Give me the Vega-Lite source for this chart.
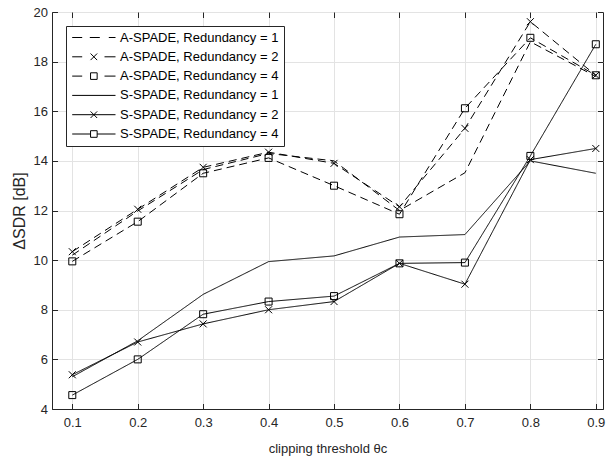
{
  "$schema": "https://vega.github.io/schema/vega-lite/v6.json",
  "width": 551,
  "height": 397,
  "autosize": "none",
  "padding": {"left": 52, "top": 12, "right": 6, "bottom": 52},
  "background": "white",
  "config": {
    "font": "Liberation Sans",
    "view": {"stroke": "#262626", "strokeWidth": 1},
    "axis": {
      "labelFont": "Liberation Sans",
      "labelFontSize": 13,
      "labelColor": "#262626",
      "titleFont": "Liberation Sans",
      "titleFontSize": 13,
      "titleFontWeight": "normal",
      "titleColor": "#262626",
      "domainColor": "#262626",
      "tickColor": "#262626",
      "gridColor": "#e3e3e3",
      "gridWidth": 1,
      "tickSize": -5.5,
      "labelPadding": 10
    }
  },
  "data": {
    "values": [
      {"series": "A-SPADE, Redundancy = 1", "theta": 0.1, "dsdr": 10.2},
      {"series": "A-SPADE, Redundancy = 1", "theta": 0.2, "dsdr": 11.98},
      {"series": "A-SPADE, Redundancy = 1", "theta": 0.3, "dsdr": 13.65},
      {"series": "A-SPADE, Redundancy = 1", "theta": 0.4, "dsdr": 14.3},
      {"series": "A-SPADE, Redundancy = 1", "theta": 0.5, "dsdr": 14.0},
      {"series": "A-SPADE, Redundancy = 1", "theta": 0.6, "dsdr": 12.0},
      {"series": "A-SPADE, Redundancy = 1", "theta": 0.7, "dsdr": 13.52},
      {"series": "A-SPADE, Redundancy = 1", "theta": 0.8, "dsdr": 18.8},
      {"series": "A-SPADE, Redundancy = 1", "theta": 0.9, "dsdr": 17.4},
      {"series": "A-SPADE, Redundancy = 2", "theta": 0.1, "dsdr": 10.34},
      {"series": "A-SPADE, Redundancy = 2", "theta": 0.2, "dsdr": 12.05},
      {"series": "A-SPADE, Redundancy = 2", "theta": 0.3, "dsdr": 13.74},
      {"series": "A-SPADE, Redundancy = 2", "theta": 0.4, "dsdr": 14.35},
      {"series": "A-SPADE, Redundancy = 2", "theta": 0.5, "dsdr": 13.9},
      {"series": "A-SPADE, Redundancy = 2", "theta": 0.6, "dsdr": 12.15},
      {"series": "A-SPADE, Redundancy = 2", "theta": 0.7, "dsdr": 15.31},
      {"series": "A-SPADE, Redundancy = 2", "theta": 0.8, "dsdr": 19.61},
      {"series": "A-SPADE, Redundancy = 2", "theta": 0.9, "dsdr": 17.45},
      {"series": "A-SPADE, Redundancy = 4", "theta": 0.1, "dsdr": 9.95},
      {"series": "A-SPADE, Redundancy = 4", "theta": 0.2, "dsdr": 11.55},
      {"series": "A-SPADE, Redundancy = 4", "theta": 0.3, "dsdr": 13.5},
      {"series": "A-SPADE, Redundancy = 4", "theta": 0.4, "dsdr": 14.12},
      {"series": "A-SPADE, Redundancy = 4", "theta": 0.5, "dsdr": 13.0},
      {"series": "A-SPADE, Redundancy = 4", "theta": 0.6, "dsdr": 11.85},
      {"series": "A-SPADE, Redundancy = 4", "theta": 0.7, "dsdr": 16.12},
      {"series": "A-SPADE, Redundancy = 4", "theta": 0.8, "dsdr": 18.96},
      {"series": "A-SPADE, Redundancy = 4", "theta": 0.9, "dsdr": 17.45},
      {"series": "S-SPADE, Redundancy = 1", "theta": 0.1, "dsdr": 5.3},
      {"series": "S-SPADE, Redundancy = 1", "theta": 0.2, "dsdr": 6.75},
      {"series": "S-SPADE, Redundancy = 1", "theta": 0.3, "dsdr": 8.62},
      {"series": "S-SPADE, Redundancy = 1", "theta": 0.4, "dsdr": 9.94},
      {"series": "S-SPADE, Redundancy = 1", "theta": 0.5, "dsdr": 10.17},
      {"series": "S-SPADE, Redundancy = 1", "theta": 0.6, "dsdr": 10.93},
      {"series": "S-SPADE, Redundancy = 1", "theta": 0.7, "dsdr": 11.03},
      {"series": "S-SPADE, Redundancy = 1", "theta": 0.8, "dsdr": 14.0},
      {"series": "S-SPADE, Redundancy = 1", "theta": 0.9, "dsdr": 13.5},
      {"series": "S-SPADE, Redundancy = 2", "theta": 0.1, "dsdr": 5.38},
      {"series": "S-SPADE, Redundancy = 2", "theta": 0.2, "dsdr": 6.7},
      {"series": "S-SPADE, Redundancy = 2", "theta": 0.3, "dsdr": 7.43},
      {"series": "S-SPADE, Redundancy = 2", "theta": 0.4, "dsdr": 8.0},
      {"series": "S-SPADE, Redundancy = 2", "theta": 0.5, "dsdr": 8.33},
      {"series": "S-SPADE, Redundancy = 2", "theta": 0.6, "dsdr": 9.87},
      {"series": "S-SPADE, Redundancy = 2", "theta": 0.7, "dsdr": 9.03},
      {"series": "S-SPADE, Redundancy = 2", "theta": 0.8, "dsdr": 14.05},
      {"series": "S-SPADE, Redundancy = 2", "theta": 0.9, "dsdr": 14.5},
      {"series": "S-SPADE, Redundancy = 4", "theta": 0.1, "dsdr": 4.56},
      {"series": "S-SPADE, Redundancy = 4", "theta": 0.2, "dsdr": 6.0},
      {"series": "S-SPADE, Redundancy = 4", "theta": 0.3, "dsdr": 7.82},
      {"series": "S-SPADE, Redundancy = 4", "theta": 0.4, "dsdr": 8.33},
      {"series": "S-SPADE, Redundancy = 4", "theta": 0.5, "dsdr": 8.55},
      {"series": "S-SPADE, Redundancy = 4", "theta": 0.6, "dsdr": 9.87},
      {"series": "S-SPADE, Redundancy = 4", "theta": 0.7, "dsdr": 9.9},
      {"series": "S-SPADE, Redundancy = 4", "theta": 0.8, "dsdr": 14.2},
      {"series": "S-SPADE, Redundancy = 4", "theta": 0.9, "dsdr": 18.7}
    ]
  },
  "layer": [
    {
      "mark": {"type": "line", "color": "black", "strokeWidth": 1},
      "encoding": {
        "x": {
          "field": "theta", "type": "quantitative",
          "scale": {"domain": [0.069, 0.911], "nice": false, "zero": false},
          "axis": {"title": "clipping threshold  θc", "values": [0.1, 0.2, 0.3, 0.4, 0.5, 0.6, 0.7, 0.8, 0.9], "format": ".1f", "labelPadding": 13, "titlePadding": 13}
        },
        "y": {
          "field": "dsdr", "type": "quantitative",
          "scale": {"domain": [4, 20], "nice": false, "zero": false},
          "axis": {"title": "ΔSDR [dB]", "titleFontSize": 16, "values": [4, 6, 8, 10, 12, 14, 16, 18, 20], "labelPadding": 10, "titlePadding": 6}
        },
        "strokeDash": {
          "field": "series", "type": "nominal",
          "scale": {
            "domain": ["A-SPADE, Redundancy = 1", "A-SPADE, Redundancy = 2", "A-SPADE, Redundancy = 4", "S-SPADE, Redundancy = 1", "S-SPADE, Redundancy = 2", "S-SPADE, Redundancy = 4"],
            "range": [[8, 5], [8, 5], [8, 5], [1, 0], [1, 0], [1, 0]]
          },
          "legend": null
        }
      }
    },
    {
      "transform": [{"filter": {"field": "series", "oneOf": ["A-SPADE, Redundancy = 2", "A-SPADE, Redundancy = 4", "S-SPADE, Redundancy = 2", "S-SPADE, Redundancy = 4"]}}],
      "mark": {"type": "point", "filled": false, "color": "black", "strokeWidth": 1, "size": 49, "opacity": 1},
      "encoding": {
        "x": {"field": "theta", "type": "quantitative", "axis": null},
        "y": {"field": "dsdr", "type": "quantitative", "axis": null},
        "shape": {
          "field": "series", "type": "nominal",
          "scale": {
            "domain": ["A-SPADE, Redundancy = 2", "A-SPADE, Redundancy = 4", "S-SPADE, Redundancy = 2", "S-SPADE, Redundancy = 4"],
            "range": ["M-1,-1L1,1M-1,1L1,-1", "square", "M-1,-1L1,1M-1,1L1,-1", "square"]
          },
          "legend": null
        }
      }
    },
    {
      "mark": {"type": "point", "filled": false, "color": "black", "strokeWidth": 1, "size": 100, "opacity": 0},
      "encoding": {
        "x": {
          "field": "theta", "type": "quantitative",
          "axis": {"orient": "top", "title": null, "labels": false, "grid": false, "domain": false, "values": [0.1, 0.2, 0.3, 0.4, 0.5, 0.6, 0.7, 0.8, 0.9]}
        },
        "y": {
          "field": "dsdr", "type": "quantitative",
          "axis": {"orient": "right", "title": null, "labels": false, "grid": false, "domain": false, "values": [4, 6, 8, 10, 12, 14, 16, 18, 20]}
        },
        "shape": {
          "field": "series", "type": "nominal",
          "scale": {
            "domain": ["A-SPADE, Redundancy = 1", "A-SPADE, Redundancy = 2", "A-SPADE, Redundancy = 4", "S-SPADE, Redundancy = 1", "S-SPADE, Redundancy = 2", "S-SPADE, Redundancy = 4"],
            "range": [
              "M-1.06,0H0.94M2.46,0H4.46M6.26,0H7.6",
              "M-1.06,0H0.94M5.4,0H7.6M2.61,-0.66L3.93,0.66M2.61,0.66L3.93,-0.66",
              "M-1.06,0H0.94M5.4,0H7.6M2.61,-0.66H3.93V0.66H2.61Z",
              "M-1.06,0H7.6",
              "M-1.06,0H7.6M2.61,-0.66L3.93,0.66M2.61,0.66L3.93,-0.66",
              "M-1.06,0H2.61M3.93,0H7.6M2.61,-0.66H3.93V0.66H2.61Z"
            ]
          },
          "legend": {
            "title": null,
            "orient": "top-left",
            "offset": 14,
            "padding": 5,
            "rowPadding": 5.3,
            "symbolSize": 100,
            "symbolOpacity": 1,
            "symbolStrokeColor": "black",
            "symbolFillColor": "transparent",
            "symbolStrokeWidth": 1,
            "labelOffset": 36,
            "labelFont": "Liberation Sans",
            "labelFontSize": 13,
            "labelColor": "#000000",
            "strokeColor": "#262626",
            "fillColor": "white",
            "cornerRadius": 0
          }
        }
      }
    }
  ],
  "resolve": {"scale": {"shape": "independent"}, "axis": {"x": "independent", "y": "independent"}}
}
